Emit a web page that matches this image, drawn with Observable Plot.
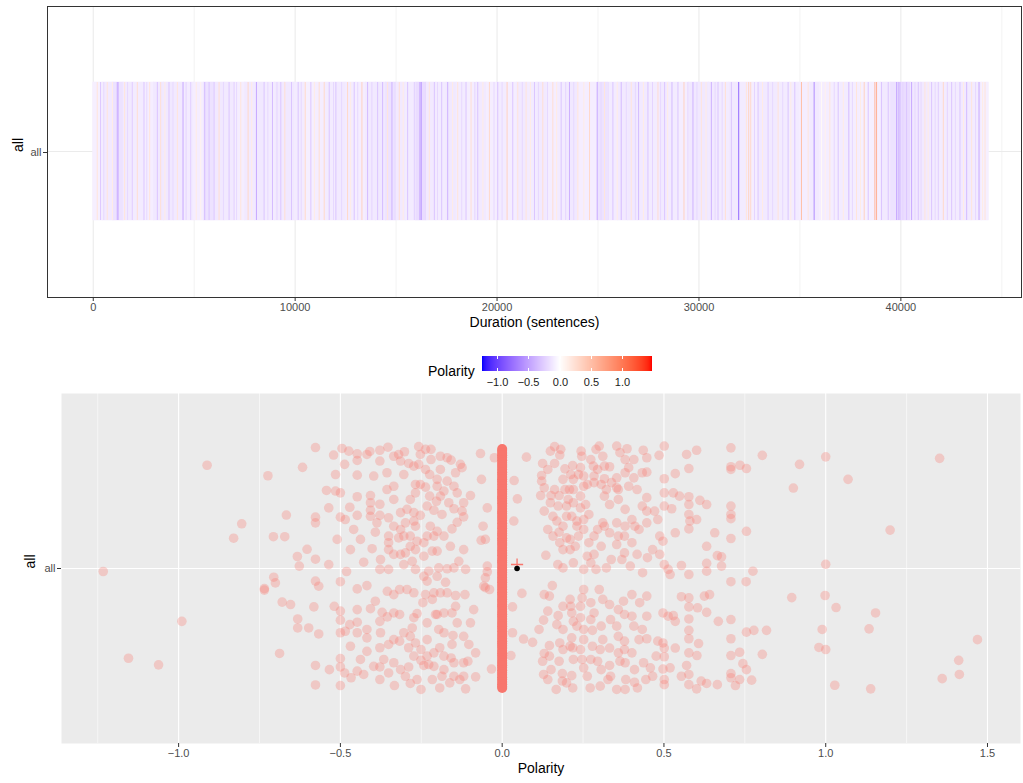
<!DOCTYPE html>
<html><head><meta charset="utf-8">
<script src="https://cdn.jsdelivr.net/npm/d3@7"></script>
<script src="https://cdn.jsdelivr.net/npm/@observablehq/plot@0.6"></script>
<style>
body{margin:0;background:#fff;font-family:"Liberation Sans",Arial,Helvetica,sans-serif;}
svg{display:block;}
#legend{position:relative;height:48px;width:1023px;}
#legTitle{position:absolute;left:428px;top:23px;font-size:14px;line-height:16px;color:#000;}
#legSvg{position:absolute;left:472px;top:0;}
</style></head><body>
<div id="topDiv"></div>
<div id="legend"><span id="legTitle">Polarity</span><div id="legSvg"></div></div>
<div id="bottomDiv"></div>
<script>
// ---------- data ----------
const category = "all";
const totalSentences = 44360;
const blockSize = 500;
// background polarity of each 500-sentence block (read from the barcode tint)
const bgPolarity = [-0.08,-0.11,-0.15,-0.11,-0.1,-0.09,-0.12,-0.12,-0.11,-0.1,
 -0.09,-0.15,-0.12,-0.11,-0.09,-0.11,-0.12,-0.1,-0.11,-0.12,
 -0.1,-0.08,-0.09,-0.1,-0.11,-0.1,-0.09,-0.11,-0.12,-0.15,
 -0.11,-0.1,-0.18,-0.11,-0.1,-0.12,-0.1,-0.09,-0.11,-0.09,
 -0.1,-0.09,-0.11,-0.1,-0.11,-0.09,-0.1,-0.12,-0.09,-0.09,
 -0.15,-0.1,-0.11,-0.12,-0.11,-0.1,-0.11,-0.1,-0.09,-0.12,
 -0.12,-0.11,-0.1,-0.11,-0.1,-0.09,-0.11,-0.11,-0.1,-0.1,
 -0.09,-0.11,-0.09,-0.09,-0.1,-0.09,-0.08,-0.08,-0.11,-0.15,
 -0.18,-0.12,-0.11,-0.1,-0.1,-0.1,-0.11,-0.1,-0.08];
// distinct sentences (position in sentences) and their polarity
const linePos = [198,364,694,1190,1240,1554,1934,2182,2513,2794,3174,3339,3752,4166,4447,4827,5323,5521,5736,5984,
 6232,6728,6976,7306,7670,8083,8463,8877,9290,9488,9819,10149,10497,10778,11191,11439,11687,12017,12596,12926,
 13307,13588,14084,14332,14579,14794,15158,15571,15902,16183,16249,16646,16894,17257,17555,18051,18464,18712,19043,19621,
 20034,20497,20778,21026,21439,21853,22266,22762,23175,23588,24002,24580,24960,25324,25737,26150,26646,27010,27473,27969,
 28299,28663,28961,29258,29704,30118,30614,30944,31308,31605,31969,32349,32465,32564,32928,33424,33920,34415,34746,35077,
 35407,35705,36068,36482,36895,37424,37804,38184,38383,38713,38796,39044,39374,39788,39870,39953,40284,40532,40862,41193,
 41523,41854,42102,42515,42928,43259,43507,43871,44168,
 520,950,1700,2650,3550,3950,4600,5100,6450,7100,7850,8650,9100,10300,10950,11900,12300,12750,13100,13800,
 14950,15350,16450,17050,17800,18250,18900,19300,19850,20250,21250,21650,22050,22500,22950,23400,23800,24300,25150,25500,
 25950,26400,26850,27250,27700,28100,28450,29450,29900,30350,30800,31150,32750,33150,33650,34150,34550,36250,36700,37150,
 37600,38000,40100,40700,41000,41350,41700,42300,42700,43100,43700,44050];
const linePol = [0.2,-0.3,0.2,-0.45,-0.35,0.2,-0.25,0.25,-0.3,0.2,-0.3,0.25,-0.3,0.2,-0.45,-0.25,0.1,-0.35,-0.3,-0.3,
 0.25,-0.3,-0.25,0.2,0.3,-0.45,-0.3,-0.35,-0.3,0.25,-0.3,-0.3,0.3,-0.3,0.25,0.3,-0.3,-0.3,0.3,-0.3,
 0.35,-0.35,-0.3,-0.35,0.2,-0.4,0.25,-0.3,-0.25,-0.5,-0.5,0.2,-0.3,-0.3,-0.4,0.2,-0.3,0.25,-0.3,0.3,
 -0.3,0.35,-0.3,0.2,0.2,-0.3,0.25,0.25,-0.3,-0.4,0.2,0.3,-0.45,0.2,-0.3,-0.35,0.2,-0.35,-0.3,0.25,
 -0.3,-0.35,-0.3,0.35,-0.4,0.2,-0.4,-0.3,0.25,-0.3,-0.8,0.2,0.35,0.3,-0.3,-0.25,0.2,-0.3,-0.3,0.5,
 0.2,-0.6,0.05,0.2,-0.3,-0.35,0.2,0.35,-0.3,0.55,0.6,-0.3,-0.3,-0.45,-0.4,-0.4,-0.3,-0.45,-0.3,0.2,
 -0.3,-0.25,0.3,-0.3,-0.3,-0.35,0.2,-0.45,0.2,
 -0.2,0.15,-0.2,-0.2,0.15,-0.2,-0.22,0.15,-0.2,-0.2,0.15,-0.2,-0.22,-0.2,0.15,-0.2,-0.2,0.15,-0.2,-0.22,
 -0.2,0.15,-0.2,-0.2,0.15,-0.2,-0.22,0.15,-0.2,-0.2,-0.2,0.15,-0.2,-0.2,0.15,-0.22,-0.2,0.15,-0.2,-0.2,
 0.15,-0.2,-0.2,0.15,-0.22,-0.2,0.15,-0.2,-0.2,0.15,-0.2,-0.2,-0.22,0.15,-0.2,-0.2,0.15,0.1,-0.2,0.15,
 -0.2,0.15,-0.22,-0.2,-0.2,0.15,-0.2,-0.22,-0.2,0.15,-0.2,0.15];
// non-zero sentence polarities with their jitter offset [polarity, jitter]
const scatterPoints = [
[-0.912,0.344],[-0.577,0.403],[-0.724,0.309],[-0.617,0.337],[-0.805,0.149],[-0.830,0.101],[-0.667,0.178],[-0.707,0.106],[-0.672,0.106],[-0.603,0.064],[-0.633,0.040],[-0.627,0.008],[-0.577,0.031],[-0.536,0.013],[-1.233,-0.010],
[-0.521,0.378],[-0.495,0.400],[-0.474,0.391],[-0.448,0.382],[-0.448,0.360],[-0.418,0.380],[-0.409,0.390],[-0.378,0.394],[-0.378,0.358],[-0.353,0.404],[-0.335,0.374],[-0.320,0.380],[-0.302,0.389],[-0.314,0.358],[-0.289,0.350],[-0.258,0.406],[-0.253,0.380],[-0.237,0.397],[-0.220,0.397],[-0.220,0.363],[-0.258,0.347],[-0.237,0.330],[-0.191,0.374],[-0.170,0.369],[-0.158,0.361],[-0.129,0.347],[-0.124,0.336],[-0.144,0.319],[-0.191,0.330],[-0.201,0.297],[-0.170,0.291],[-0.224,0.313],[-0.304,0.313],[-0.487,0.347],[-0.515,0.313],[-0.448,0.311],
[-0.543,0.260],[-0.515,0.258],[-0.500,0.252],[-0.448,0.239],[-0.407,0.243],[-0.378,0.214],[-0.335,0.230],[-0.335,0.274],[-0.268,0.280],[-0.253,0.280],[-0.237,0.271],[-0.268,0.252],[-0.224,0.241],[-0.201,0.274],[-0.180,0.258],[-0.139,0.252],[-0.098,0.243],[-0.165,0.219],[-0.119,0.219],[-0.149,0.199],[-0.203,0.224],[-0.211,0.194],[-0.186,0.180],[-0.124,0.191],[-0.119,0.172],[-0.139,0.154],[-0.155,0.132],[-0.201,0.124],[-0.222,0.141],[-0.211,0.108],[-0.232,0.108],[-0.242,0.086],[-0.216,0.058],[-0.201,0.058],[-0.268,0.063],[-0.263,0.091],[-0.268,0.141],[-0.304,0.108],[-0.335,0.141],[-0.314,0.130],[-0.294,0.197],[-0.314,0.186],[-0.273,0.186],[-0.253,0.177],[-0.273,0.158],[-0.299,0.152],[-0.351,0.169],[-0.378,0.177],[-0.407,0.219],[-0.407,0.194],[-0.407,0.174],[-0.448,0.177],[-0.471,0.204],[-0.500,0.171],[-0.485,0.163],[-0.536,0.202],[-0.577,0.171],[-0.577,0.152],[-0.392,0.121],[-0.351,0.108],[-0.351,0.086],[-0.351,0.063],[-0.320,0.102],[-0.284,0.108],[-0.314,0.047],[-0.299,0.052],[-0.335,0.047],[-0.376,0.030],[-0.402,0.066],[-0.428,0.021],[-0.378,-0.003],[-0.351,-0.003],[-0.304,0.013],[-0.278,0.024],[-0.268,-0.003],[-0.242,-0.026],[-0.227,-0.009],[-0.196,0.002],[-0.170,-0.001],[-0.149,0.002],[-0.134,0.024],[-0.119,0.063],[-0.113,-0.003],[-0.201,-0.026],[-0.232,-0.042],[-0.175,-0.046],[-0.481,-0.010],[-0.500,-0.044],[-0.577,-0.042],[-0.567,-0.059],[-0.706,-0.029],[-0.701,-0.048],[-0.735,-0.067],
[-0.067,0.383],[-0.024,0.369],[-0.064,0.297],[-0.046,0.202],[-0.059,0.141],[-0.065,0.094],[-0.052,0.097],[-0.046,0.008],[-0.046,-0.011],[-0.052,-0.031],[-0.057,-0.059],
[0.037,0.293],[0.047,0.232],[0.036,0.158],[0.075,0.371],
[0.149,0.391],[0.162,0.406],[0.181,0.397],[0.178,0.378],[0.125,0.350],[0.162,0.350],[0.141,0.330],[0.122,0.310],[0.122,0.291],[0.130,0.269],[0.119,0.243],[0.162,0.263],[0.176,0.243],[0.188,0.297],[0.194,0.332],[0.218,0.343],[0.244,0.391],[0.246,0.374],[0.242,0.336],[0.252,0.308],[0.220,0.297],[0.208,0.263],[0.252,0.274],[0.290,0.397],[0.300,0.408],[0.274,0.363],[0.282,0.341],[0.311,0.374],[0.316,0.341],[0.332,0.339],[0.284,0.308],[0.284,0.286],[0.316,0.299],[0.354,0.408],[0.364,0.386],[0.386,0.399],[0.380,0.363],[0.407,0.363],[0.391,0.336],[0.354,0.302],[0.354,0.269],[0.359,0.263],[0.380,0.319],[0.407,0.302],[0.391,0.274],[0.436,0.394],[0.447,0.369],[0.447,0.321],[0.485,0.377],[0.501,0.408],[0.501,0.299],[0.535,0.316],[0.570,0.380],[0.577,0.333],[0.601,0.394],[0.707,0.402],[0.707,0.339],[0.707,0.330],[0.735,0.344],[0.755,0.333],[0.804,0.377],[0.919,0.347],[1.000,0.372],[1.069,0.297],[0.900,0.268],[1.352,0.367],[1.199,0.128],[1.000,0.014],[0.775,-0.009],[0.754,-0.044],
[0.151,0.243],[0.149,0.219],[0.130,0.191],[0.157,0.174],[0.176,0.121],[0.169,0.158],[0.199,0.208],[0.220,0.219],[0.242,0.202],[0.215,0.174],[0.188,0.141],[0.199,0.102],[0.188,0.063],[0.210,0.063],[0.236,0.108],[0.231,0.141],[0.252,0.163],[0.268,0.086],[0.135,0.044],[0.172,0.013],[0.188,0.002],[0.220,0.019],[0.263,0.041],[0.284,0.047],[0.252,-0.003],[0.290,-0.003],[0.316,0.241],[0.332,0.213],[0.316,0.141],[0.311,0.152],[0.295,0.130],[0.332,0.119],[0.354,0.152],[0.380,0.141],[0.410,0.141],[0.378,0.108],[0.401,0.086],[0.354,0.080],[0.378,0.052],[0.370,0.030],[0.337,0.030],[0.322,0.002],[0.396,0.008],[0.434,-0.014],[0.449,0.036],[0.465,0.063],[0.487,0.047],[0.501,0.013],[0.519,-0.020],[0.487,0.108],[0.497,0.091],[0.535,0.119],[0.447,0.152],[0.481,0.163],[0.447,0.191],[0.447,0.236],[0.471,0.191],[0.501,0.208],[0.524,0.199],[0.501,0.252],[0.529,0.252],[0.548,0.241],[0.577,0.239],[0.577,0.213],[0.577,0.180],[0.580,0.158],[0.577,0.132],[0.611,0.227],[0.632,0.213],[0.601,0.163],[0.657,0.119],[0.632,0.074],[0.665,0.043],[0.678,0.039],[0.632,0.017],[0.632,-0.009],[0.678,0.008],[0.707,0.208],[0.707,0.180],[0.707,0.166],[0.707,0.100],[0.755,0.124],[0.554,0.010],[0.577,-0.020],[0.707,-0.044],[0.513,-0.003],
[0.204,0.230],[0.220,0.263],[0.242,0.241],[0.258,0.213],[0.268,0.180],[0.231,0.158],[0.252,0.130],[0.210,0.097],[0.226,0.074],[0.178,0.086],[0.157,0.108],[0.141,0.130],[0.199,0.174],[0.173,0.208],[0.194,0.263],[0.212,0.313],[0.236,0.313],[0.263,0.280],[0.306,0.280],[0.322,0.263],[0.295,0.330],[0.338,0.286],[0.359,0.230],[0.380,0.197],[0.401,0.163],[0.423,0.130],[0.359,0.108],[0.306,0.074],[0.284,0.108],[0.274,0.019],[0.417,0.047],[0.433,0.208],[0.417,0.263],[0.433,0.319],
[-0.990,-0.176],[-1.155,-0.299],[-1.062,-0.321],[-0.688,-0.283],[-0.735,-0.072],[-0.680,-0.112],[-0.654,-0.120],[-0.632,-0.168],[-0.632,-0.198],[-0.598,-0.198],[-0.582,-0.128],[-0.567,-0.218],[-0.577,-0.323],[-0.577,-0.388],[-0.534,-0.337],[-0.500,-0.300],[-0.500,-0.328],[-0.500,-0.390],[-0.487,-0.348],[-0.467,-0.364],[-0.448,-0.342],[-0.428,-0.353],[-0.519,-0.126],[-0.500,-0.142],[-0.500,-0.172],[-0.500,-0.214],[-0.485,-0.209],[-0.471,-0.187],[-0.448,-0.137],[-0.448,-0.179],[-0.448,-0.214],[-0.418,-0.203],[-0.418,-0.231],[-0.418,-0.276],[-0.448,-0.068],[-0.418,-0.057],[-0.407,-0.134],[-0.392,-0.109],[-0.378,-0.264],[-0.371,-0.146],[-0.378,-0.176],[-0.355,-0.161],[-0.351,-0.253],[-0.351,-0.348],[-0.378,-0.370],[-0.335,-0.314],[-0.333,-0.390],[-0.317,-0.153],[-0.317,-0.242],[-0.304,-0.214],[-0.299,-0.359],[-0.289,-0.264],[-0.289,-0.328],[-0.284,-0.383],[-0.273,-0.164],[-0.268,-0.248],[-0.278,-0.198],[-0.263,-0.150],[-0.251,-0.270],[-0.251,-0.306],[-0.251,-0.403],[-0.242,-0.323],[-0.232,-0.181],[-0.232,-0.292],[-0.227,-0.320],[-0.211,-0.326],[-0.216,-0.370],[-0.206,-0.153],[-0.196,-0.203],[-0.193,-0.264],[-0.193,-0.398],[-0.186,-0.359],[-0.180,-0.337],[-0.180,-0.214],[-0.158,-0.298],[-0.155,-0.253],[-0.152,-0.223],[-0.162,-0.381],[-0.149,-0.314],[-0.131,-0.370],[-0.119,-0.359],[-0.119,-0.314],[-0.119,-0.226],[-0.103,-0.253],[-0.106,-0.309],[-0.113,-0.401],[-0.082,-0.361],[-0.033,-0.335],[-0.144,-0.126],[-0.155,-0.148],[-0.180,-0.148],[-0.201,-0.153],[-0.216,-0.103],[-0.237,-0.087],[-0.245,-0.114],[-0.211,-0.081],[-0.191,-0.081],[-0.170,-0.081],[-0.144,-0.090],[-0.115,-0.087],[-0.317,-0.070],[-0.294,-0.070],[-0.273,-0.081],[-0.335,-0.087],[-0.355,-0.076],[-0.052,-0.064],[-0.039,-0.070],[-0.378,-0.328],
[-0.335,-0.148],[-0.284,-0.226],[-0.232,-0.237],[-0.211,-0.281],[-0.180,-0.292],[-0.273,-0.292],[-0.314,-0.337],[-0.263,-0.370],[-0.149,-0.359],[-0.335,-0.237],[-0.366,-0.303],[-0.397,-0.326],[-0.438,-0.303],[-0.469,-0.259],[-0.376,-0.214],[-0.139,-0.181],[-0.098,-0.181],[-0.088,-0.137],[-0.082,-0.281],
[-0.356,0.263],[-0.284,0.230],[-0.232,0.208],[-0.191,0.241],[-0.180,0.108],[-0.160,0.074],[-0.242,0.041],[-0.284,0.074],[-0.438,0.097],[-0.459,0.130],[-0.469,0.063],[-0.510,0.097],[-0.387,0.152],[-0.149,0.274],[-0.273,0.341],[-0.356,0.319],[-0.397,0.308],
[0.061,-0.083],[0.032,-0.128],[0.032,-0.214],[0.066,-0.235],[0.094,-0.246],[0.027,-0.290],[0.130,-0.087],[0.155,-0.057],[0.141,-0.142],[0.128,-0.172],[0.146,-0.257],[0.130,-0.283],[0.125,-0.309],[0.151,-0.337],[0.128,-0.353],[0.141,-0.370],[0.173,-0.157],[0.169,-0.187],[0.188,-0.203],[0.178,-0.248],[0.188,-0.270],[0.176,-0.309],[0.186,-0.350],[0.186,-0.375],[0.212,-0.126],[0.215,-0.148],[0.220,-0.176],[0.231,-0.192],[0.215,-0.231],[0.218,-0.264],[0.220,-0.303],[0.215,-0.357],[0.218,-0.398],[0.252,-0.070],[0.247,-0.098],[0.242,-0.164],[0.252,-0.237],[0.247,-0.303],[0.252,-0.331],[0.272,-0.398],[0.279,-0.259],[0.279,-0.206],[0.284,-0.148],[0.274,-0.114],[0.300,-0.070],[0.311,-0.103],[0.311,-0.237],[0.303,-0.270],[0.295,-0.309],[0.303,-0.392],[0.332,-0.120],[0.335,-0.170],[0.332,-0.265],[0.332,-0.323],[0.335,-0.359],[0.354,-0.403],[0.354,-0.192],[0.359,-0.226],[0.364,-0.309],[0.375,-0.109],[0.378,-0.153],[0.378,-0.242],[0.378,-0.270],[0.382,-0.370],[0.401,-0.087],[0.407,-0.192],[0.409,-0.337],[0.409,-0.379],[0.418,-0.398],[0.425,-0.114],[0.447,-0.092],[0.447,-0.159],[0.447,-0.234],[0.458,-0.331],[0.437,-0.314],[0.481,-0.242],[0.497,-0.248],[0.501,-0.265],[0.501,-0.294],[0.497,-0.335],[0.519,-0.331],[0.501,-0.370],[0.501,-0.387],[0.497,-0.148],[0.513,-0.159],[0.529,-0.157],[0.535,-0.176],[0.535,-0.265],[0.554,-0.359],[0.577,-0.353],[0.577,-0.387],[0.570,-0.323],[0.577,-0.281],[0.602,-0.290],[0.607,-0.250],[0.577,-0.234],[0.577,-0.206],[0.577,-0.168],[0.577,-0.128],[0.577,-0.098],[0.554,-0.094],[0.604,-0.131],[0.632,-0.146],[0.625,-0.092],[0.641,-0.087],[0.601,-0.401],[0.615,-0.375],[0.632,-0.383],[0.665,-0.387],[0.668,-0.176],[0.707,-0.170],[0.707,-0.234],[0.707,-0.290],[0.734,-0.279],[0.744,-0.317],[0.755,-0.337],[0.707,-0.350],[0.707,-0.364],[0.734,-0.370],[0.721,-0.390],[0.771,-0.372],[0.755,-0.212],[0.778,-0.206],[0.817,-0.206],[0.804,-0.286],[0.895,-0.097],[0.998,-0.090],[1.032,-0.130],[0.989,-0.203],[0.979,-0.263],[1.000,-0.270],[1.134,-0.201],[1.154,-0.148],[1.028,-0.389],[1.139,-0.401],[1.469,-0.237],[1.411,-0.306],[1.413,-0.353],[1.360,-0.367],
[0.146,-0.092],[0.188,-0.126],[0.210,-0.103],[0.242,-0.126],[0.274,-0.170],[0.306,-0.192],[0.252,-0.203],[0.210,-0.259],[0.242,-0.270],[0.274,-0.303],[0.306,-0.337],[0.263,-0.359],[0.199,-0.381],[0.167,-0.403],[0.146,-0.292],[0.114,-0.203],[0.359,-0.281],[0.380,-0.314],[0.401,-0.281],[0.423,-0.237],[0.359,-0.137],[0.401,-0.159],[0.433,-0.203],[0.380,-0.403],[0.327,-0.370],[0.465,-0.359],[0.476,-0.292],[0.444,-0.370]
];
// the many sentences with polarity exactly 0 (jitter offsets)
const zeroJitter = [0.398,0.392,0.385,0.377,0.37,0.361,0.352,0.345,0.338,0.33,0.321,0.313,0.305,0.297,0.29,0.281,0.272,0.264,0.256,0.248,0.24,0.233,0.226,0.217,0.208,0.199,0.19,0.183,0.175,0.168,0.16,0.151,0.142,0.134,0.125,0.117,0.11,0.101,0.093,0.085,0.078,0.069,0.06,0.052,0.044,0.035,0.027,0.02,0.012,0.003,-0.005,-0.013,-0.021,-0.03,-0.038,-0.046,-0.054,-0.062,-0.07,-0.079,-0.087,-0.095,-0.103,-0.111,-0.12,-0.127,-0.135,-0.144,-0.152,-0.16,-0.168,-0.177,-0.185,-0.192,-0.2,-0.209,-0.218,-0.225,-0.233,-0.242,-0.25,-0.257,-0.265,-0.274,-0.282,-0.29,-0.298,-0.307,-0.315,-0.322,-0.33,-0.339,-0.347,-0.354,-0.362,-0.37,-0.378,-0.386,-0.393,-0.398];
const meanPolarity = 0.046;
const durationTicks = [0,10000,20000,30000,40000];
const durationMinor = [5000,15000,25000,35000,45000];
const polarityTicks = [-1,-0.5,0,0.5,1,1.5];
const polarityMinor = [-1.25,-0.75,-0.25,0.25,0.75,1.25];
const legendTicks = [-1,-0.5,0,0.5,1];

// ---------- colour scale (blue - white - red, Lab, white at 0) ----------
const pMin = d3.min(scatterPoints, d => d[0]);
const pMax = d3.max(scatterPoints, d => d[0]);
const toBlue = d3.interpolateLab("#ffffff", "#0000ff");
const toRed = d3.interpolateLab("#ffffff", "#ff0000");
const polColor = v => v < 0 ? toBlue(Math.min(1, v / pMin)) : toRed(Math.min(1, v / pMax));
const colorOpts = {type: "linear", domain: [pMin, pMax], interpolate: t => polColor(pMin + t * (pMax - pMin))};

const FONT = "Liberation Sans, Arial, Helvetica, sans-serif";
const fmt1 = d3.format(".1f");

// ---------- top: barcode ----------
const blocks = bgPolarity.map((p, i) => ({x1: i * blockSize, x2: Math.min((i + 1) * blockSize, totalSentences), p, g: category}));
const lines = linePos.map((s, i) => ({s, p: linePol[i], g: category}));

const topChart = Plot.plot({
  width: 1023, height: 340,
  marginLeft: 47, marginRight: 2, marginTop: 6, marginBottom: 43,
  x: {domain: [-2266, 45975], label: null},
  y: {domain: [category], padding: 0.3535, label: null},
  color: colorOpts,
  style: {fontFamily: FONT, fontSize: "11px", background: "white", color: "#4d4d4d"},
  marks: [
    Plot.gridX(durationMinor, {stroke: "#ebebeb", strokeOpacity: 1, strokeWidth: 0.6}),
    Plot.gridX(durationTicks, {stroke: "#ebebeb", strokeOpacity: 1, strokeWidth: 1.1}),
    Plot.gridY({stroke: "#ebebeb", strokeOpacity: 1, strokeWidth: 1.1}),
    Plot.barX(blocks, {x1: "x1", x2: "x2", y: "g", fill: "p", stroke: "p", strokeWidth: 0.6}),
    Plot.tickX(lines, {x: "s", y: "g", stroke: "p", strokeWidth: 1}),
    Plot.frame({stroke: "#333333", strokeWidth: 1}),
    Plot.axisX({ticks: durationTicks, tickFormat: d => String(d), tickSize: 4, tickPadding: 2, label: null, stroke: "#333333", fill: "#4d4d4d"}),
    Plot.axisY({tickSize: 4, tickPadding: 2, label: null, stroke: "#333333", fill: "#4d4d4d", dy: 1}),
    Plot.text(["Duration (sentences)"], {frameAnchor: "bottom", dy: 29, fontSize: 14, fill: "black"}),
    Plot.text([category], {frameAnchor: "left", dx: -29, rotate: -90, fontSize: 14, fill: "black"})
  ]
});
document.getElementById("topDiv").appendChild(topChart);

// ---------- legend ----------
const legendSvg = Plot.legend({
  color: colorOpts, label: null,
  width: 190, height: 49, marginTop: 16, marginBottom: 18, marginLeft: 10, marginRight: 10,
  ticks: legendTicks, tickFormat: fmt1, tickSize: 4,
  style: {fontFamily: FONT, fontSize: "11px", color: "#1a1a1a", background: "transparent"}
});
document.getElementById("legSvg").appendChild(legendSvg);
d3.select(legendSvg).selectAll(".tick").each(function() {
  const t = d3.select(this);
  t.select("line").attr("y1", -15).attr("y2", -12).attr("stroke", "white");
  t.append("line").attr("y1", -3).attr("y2", 0).attr("stroke", "white");
});

// ---------- bottom: jittered polarity ----------
const pts = scatterPoints.map(([p, j]) => ({p, j}));
const zeros = zeroJitter.map(j => ({p: 0, j}));
const bottomChart = Plot.plot({
  width: 1023, height: 395,
  marginLeft: 61, marginRight: 3, marginTop: 5, marginBottom: 40,
  x: {domain: [-1.362, 1.602], label: null},
  y: {domain: [-0.583, 0.583], label: null},
  style: {fontFamily: FONT, fontSize: "11px", background: "white", color: "#4d4d4d"},
  marks: [
    Plot.frame({fill: "#ebebeb", stroke: null}),
    Plot.gridX(polarityMinor, {stroke: "white", strokeOpacity: 1, strokeWidth: 0.55}),
    Plot.gridX(polarityTicks, {stroke: "white", strokeOpacity: 1, strokeWidth: 1.1}),
    Plot.gridY([0], {stroke: "white", strokeOpacity: 1, strokeWidth: 1.1}),
    Plot.dot(pts, {x: "p", y: "j", r: 4.8, fill: "#F8766D", fillOpacity: 0.3}),
    Plot.dot(zeros, {x: "p", y: "j", r: 5, fill: "#F8766D", fillOpacity: 1}),
    Plot.dot([{p: meanPolarity, j: 0}], {x: "p", y: "j", symbol: "plus", r: 4, stroke: "#F8766D", strokeWidth: 1.3, dy: -4}),
    Plot.dot([{p: meanPolarity, j: 0}], {x: "p", y: "j", r: 2.8, fill: "black"}),
    Plot.axisX({ticks: polarityTicks, tickFormat: fmt1, tickSize: 4, tickPadding: 2, label: null, stroke: "#333333", fill: "#4d4d4d"}),
    Plot.axisY({ticks: [0], tickFormat: () => category, tickSize: 4, tickPadding: 2, label: null, stroke: "#333333", fill: "#4d4d4d"}),
    Plot.text(["Polarity"], {frameAnchor: "bottom", dy: 29, fontSize: 14, fill: "black"}),
    Plot.text([category], {frameAnchor: "left", dx: -31, rotate: -90, fontSize: 14, fill: "black"})
  ]
});
document.getElementById("bottomDiv").appendChild(bottomChart);
</script>
</body></html>
